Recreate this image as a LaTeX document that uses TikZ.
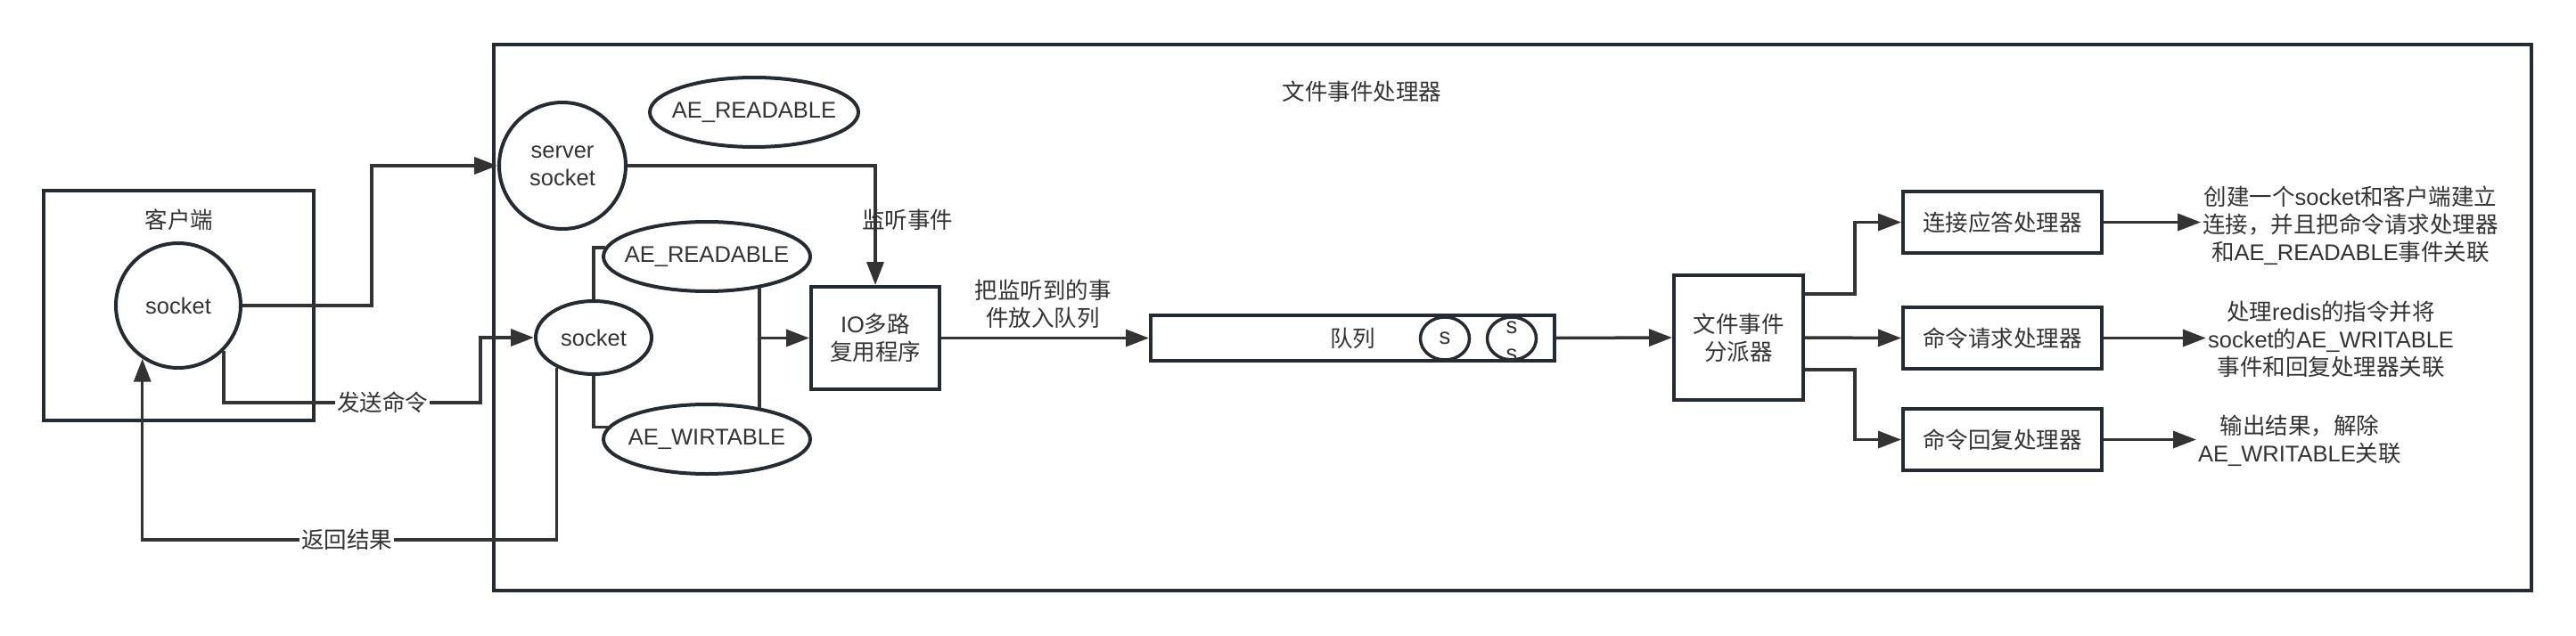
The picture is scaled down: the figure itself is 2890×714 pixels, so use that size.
\documentclass[tikz,border=0pt]{standalone}
\usepackage{fontspec}
\setmainfont{Liberation Sans}
\newfontfamily\cjk{Noto Sans CJK SC}
\usetikzlibrary{arrows.meta,shapes.geometric,calc}
\definecolor{bd}{HTML}{252B33}
\definecolor{ln}{HTML}{333333}
\definecolor{tx}{HTML}{333333}
\tikzset{
 ell/.style={ellipse, draw=bd, line width=4pt, inner sep=0pt, text=tx, align=center},
 rbox/.style={rectangle, draw=bd, line width=4pt, inner sep=0pt, text=tx, align=center},
 con/.style={draw=ln, line width=3.5pt},
 arr/.style={con, -{Triangle[length=26pt,width=19pt]}},
 lbl/.style={text=tx, align=center, inner sep=2pt},
 lblw/.style={lbl, fill=white},
}
\begin{document}
\begin{tikzpicture}[x=1pt,y=-1pt, font=\fontsize{25.5pt}{31pt}\selectfont]
\useasboundingbox (0,0) rectangle (2890,714);
% frames
\node[rbox, minimum width=303pt, minimum height=258pt] (client) at (200.5,343) {};
\node[lbl] (clientlbl) at (201,247) {\cjk 客户端};
\node[rbox, minimum width=2286pt, minimum height=613pt] (main) at (1697,356.5) {};
\node[lbl] (title) at (1528,103) {\cjk 文件事件处理器};
% ellipses
\node[ell, minimum width=140pt, minimum height=140pt] (cs) at (200,343) {socket};
\node[ell, minimum width=142pt, minimum height=142pt] (ss) at (631,186) {server\\socket};
\node[ell, minimum width=234pt, minimum height=78pt] (ar1) at (846,126) {\makebox[0pt]{AE\_READABLE}};
\node[ell, minimum width=232pt, minimum height=78pt] (ar2) at (793,288) {\makebox[0pt]{AE\_READABLE}};
\node[ell, minimum width=232pt, minimum height=78pt] (aw) at (793,493) {\makebox[0pt]{AE\_WIRTABLE}};
\node[ell, minimum width=130pt, minimum height=82pt] (sk) at (666,379) {socket};
% boxes
\node[rbox, minimum width=144pt, minimum height=115pt] (io) at (982,379.5) {IO{\cjk 多路}\\{\cjk 复用程序}};
\node[rbox, minimum width=453pt, minimum height=51pt] (q) at (1517.5,379.5) {\cjk 队列};
\node[ell, line width=3.5pt, minimum width=55pt, minimum height=48pt] (s1) at (1621,380) {s};
\node[ell, line width=3.5pt, minimum width=55pt, minimum height=48pt] (s2) at (1696,380) {};
\node[lbl, inner sep=0pt] (s2t) at (1696,383) {s\\s};
\node[rbox, minimum width=145pt, minimum height=140pt] (d) at (1950.5,379) {{\cjk 文件事件}\\{\cjk 分派器}};
\node[rbox, minimum width=223pt, minimum height=69pt] (b1) at (2246.5,249.5) {\cjk 连接应答处理器};
\node[rbox, minimum width=223pt, minimum height=69pt] (b2) at (2246.5,379.5) {\cjk 命令请求处理器};
\node[rbox, minimum width=223pt, minimum height=69pt] (b3) at (2246.5,493.5) {\cjk 命令回复处理器};
% texts on right
\node[lbl] (t1) at (2637,253) {{\cjk 创建一个}socket{\cjk 和客户端建立}\\{\cjk 连接，并且把命令请求处理器}\\{\cjk 和}AE\_READABLE{\cjk 事件关联}};
\node[lbl] (t2) at (2615,381) {{\cjk 处理}redis{\cjk 的指令并将}\\socket{\cjk 的}AE\_WRITABLE\\{\cjk 事件和回复处理器关联}};
\node[lbl] (t3) at (2580,495) {{\cjk 输出结果，解除}\\AE\_WRITABLE{\cjk 关联}};
% labels
\node[lbl] (lbl1) at (1018,247) {\cjk 监听事件};
\node[lbl] (lbl2) at (1170,341) {{\cjk 把监听到的事}\\{\cjk 件放入队列}};
\coordinate (ybot) at (0,606);
% connectors
\draw[arr] (cs.east) -- ++(145,0) |- (ss.west);
\draw[arr] (cs.-45) |- ($(sk.west)+(-60,73)$) |- (sk.west);
\node[lblw] (send) at (429,452) {\cjk 发送命令};
\draw[arr] (sk.-141) |- (cs.-124 |- ybot) -- (cs.-124);
\node[lblw] (ret) at (389,606) {\cjk 返回结果};
\draw[arr] (ss.east) -| (io.north);
\draw[con] (sk.north) |- (ar2.175);
\draw[con] (sk.south) |- (aw.173);
\draw[con] (ar2.-31) -- (aw.31);
\draw[arr] (ar2.-31 |- io.west) -- (io.west);
\draw[arr] (io.east) -- (q.west);
\draw[arr] (q.east) -- (d.west);
\draw[arr] ([yshift=49pt]d.east) -- ++(56,0) |- (b1.west);
\draw[arr] (d.east) -- (b2.west);
\draw[arr] ([yshift=-36pt]d.east) -- ++(56,0) |- (b3.west);
\draw[arr] (b1.east) -- (b1.east -| t1.west);
\draw[arr] (b2.east) -- (b2.east -| t2.west);
\draw[arr] (b3.east) -- (b3.east -| t3.west);
\end{tikzpicture}
\end{document}
